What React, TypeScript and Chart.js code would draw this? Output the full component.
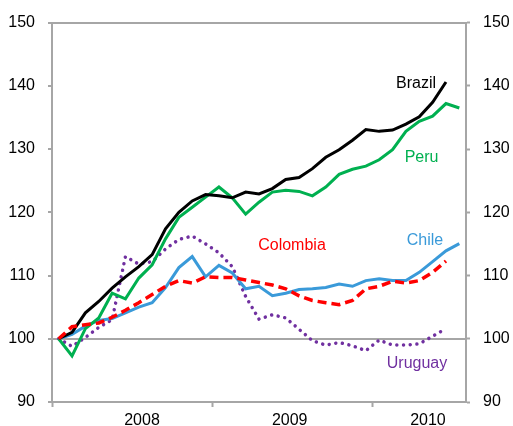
import React, { useEffect, useRef } from 'react';
import { Chart, registerables } from 'chart.js';

Chart.register(...registerables);

// Monthly index, Jan 2008 = 100 (Jan 2008 .. Jul 2010)
const categories = [
  'Jan 2008', 'Feb 2008', 'Mar 2008', 'Apr 2008', 'May 2008', 'Jun 2008', 'Jul 2008', 'Aug 2008', 'Sep 2008', 'Oct 2008', 'Nov 2008', 'Dec 2008',
  'Jan 2009', 'Feb 2009', 'Mar 2009', 'Apr 2009', 'May 2009', 'Jun 2009', 'Jul 2009', 'Aug 2009', 'Sep 2009', 'Oct 2009', 'Nov 2009', 'Dec 2009',
  'Jan 2010', 'Feb 2010', 'Mar 2010', 'Apr 2010', 'May 2010', 'Jun 2010', 'Jul 2010',
];

const brazil = [100, 101, 104.1, 105.9, 108, 109.8, 111.4, 113.3, 117.4, 120, 121.8, 122.8, 122.6, 122.3, 123.2, 122.9, 123.75, 125.2, 125.5, 126.9, 128.7, 129.9, 131.4, 133.1, 132.8, 133.0, 133.95, 135.1, 137.4, 140.6];
const peru = [100, 97.3, 101.6, 103.3, 107.2, 106.3, 109.6, 111.7, 115.8, 119.2, 120.8, 122.4, 124, 122.3, 119.7, 121.6, 123.2, 123.5, 123.3, 122.6, 124, 126, 126.8, 127.3, 128.3, 129.9, 132.8, 134.4, 135.2, 137.2, 136.5];
const colombia = [100, 101.9, 102.2, 102.5, 103.4, 104.5, 105.7, 107, 108.3, 109.2, 108.8, 109.8, 109.7, 109.7, 109.3, 108.9, 108.5, 107.9, 106.8, 106.05, 105.7, 105.4, 106.05, 107.9, 108.3, 109.1, 108.8, 109.2, 110.5, 112.3];
const chile = [100, 100.7, 102, 102.9, 103.2, 104.1, 105, 105.7, 108.1, 111.25, 113, 109.8, 111.6, 110.4, 107.9, 108.3, 106.8, 107.2, 107.8, 107.9, 108.1, 108.65, 108.3, 109.2, 109.5, 109.2, 109.2, 110.5, 112.2, 113.9, 115.05];
const uruguay = [100, 98.8, 100.2, 101.8, 103, 113, 111.8, 112.2, 114.2, 115.7, 116.25, 115.0, 113.6, 111.4, 106.7, 103.1, 103.8, 103.3, 101.5, 99.7, 99.0, 99.4, 98.9, 98.1, 99.8, 99.0, 99.0, 99.2, 100.4, 101.6];

const yearLabels = ['2008', '2009', '2010'];
const yearLabelPositions = [6.74, 17.8, 28.15];
const yearBoundaries = [0, 12, 24];

const seriesNames = ['Brazil', 'Peru', 'Colombia', 'Chile', 'Uruguay'];
const noteX = [27.26, 27.67, 17.97, 27.93, 27.33];
const noteY = [140.3, 128.6, 114.8, 115.6, 96.1];

const COLORS = {
  Brazil: '#000000',
  Peru: '#00B050',
  Colombia: '#FF0000',
  Chile: '#3A9AD9',
  Uruguay: '#7030A0',
};
const GRAY = '#A6A6A6';
const FONT = 'Liberation Sans, Arial, sans-serif';

const toPoints = (arr: number[]) => arr.map((v, i) => ({ x: i + 0.5, y: v }));

const notesPlugin = {
  id: 'notes',
  afterDatasetsDraw(chart: any) {
    const { ctx, scales } = chart;
    ctx.save();
    ctx.font = `16px ${FONT}`;
    ctx.textAlign = 'center';
    ctx.textBaseline = 'middle';
    seriesNames.forEach((name, i) => {
      ctx.fillStyle = (COLORS as any)[name];
      ctx.fillText(name, scales.x.getPixelForValue(noteX[i]), scales.y.getPixelForValue(noteY[i]));
    });
    ctx.restore();
  },
};

export default function App() {
  const canvasRef = useRef<HTMLCanvasElement | null>(null);

  useEffect(() => {
    document.body.style.margin = '0';
    const canvas = canvasRef.current;
    if (!canvas) return;

    const tickValues = [...yearBoundaries, ...yearLabelPositions].sort((a, b) => a - b);

    const chart = new Chart(canvas, {
      type: 'line',
      data: {
        datasets: [
          { label: 'Brazil', data: toPoints(brazil), borderColor: COLORS.Brazil, borderWidth: 3, order: 1 },
          { label: 'Peru', data: toPoints(peru), borderColor: COLORS.Peru, borderWidth: 3, order: 2 },
          { label: 'Colombia', data: toPoints(colombia), borderColor: COLORS.Colombia, borderWidth: 3.5, borderDash: [9, 5], order: 0 },
          { label: 'Chile', data: toPoints(chile), borderColor: COLORS.Chile, borderWidth: 3, order: 3 },
          { label: 'Uruguay', data: toPoints(uruguay), borderColor: COLORS.Uruguay, borderWidth: 3.5, borderDash: [0.01, 6.7], borderCapStyle: 'round', order: 4 },
        ] as any,
      },
      options: {
        animation: false,
        responsive: true,
        maintainAspectRatio: false,
        layout: { padding: { top: 18, left: 0, right: 0, bottom: 0 } },
        elements: {
          point: { radius: 0, hoverRadius: 0 },
          line: { tension: 0, fill: false },
        },
        plugins: {
          legend: { display: false },
          tooltip: { enabled: false },
        },
        scales: {
          x: {
            type: 'linear',
            position: 'bottom',
            min: 0,
            max: categories.length,
            afterBuildTicks: (scale: any) => {
              scale.ticks = tickValues.map((v) => ({ value: v }));
            },
            afterFit: (scale: any) => {
              scale.height = 24;
            },
            ticks: {
              autoSkip: false,
              maxRotation: 0,
              padding: 4,
              color: '#000',
              font: { family: FONT, size: 16 },
              callback: (value: any) => {
                const k = yearLabelPositions.indexOf(Number(value));
                return k >= 0 ? yearLabels[k] : '';
              },
            },
            grid: {
              drawOnChartArea: false,
              drawTicks: true,
              tickLength: 5,
              tickWidth: 2,
              tickColor: (ctx: any) => (yearBoundaries.includes(ctx.tick?.value) ? GRAY : 'rgba(0,0,0,0)'),
            },
            border: { color: GRAY, width: 2 },
          },
          y: {
            type: 'linear',
            position: 'left',
            min: 90,
            max: 150,
            afterFit: (scale: any) => {
              scale.width = 52;
            },
            ticks: {
              stepSize: 10,
              padding: 13,
              color: '#000',
              font: { family: FONT, size: 16 },
            },
            grid: {
              drawOnChartArea: true,
              tickLength: 4,
              tickWidth: 2,
              tickColor: GRAY,
              lineWidth: 2,
              color: (ctx: any) => {
                const v = ctx.tick?.value;
                return v === 100 || v === 150 ? GRAY : 'rgba(0,0,0,0)';
              },
            },
            border: { color: GRAY, width: 2 },
          },
          y2: {
            type: 'linear',
            position: 'right',
            min: 90,
            max: 150,
            afterFit: (scale: any) => {
              scale.width = 47;
            },
            ticks: {
              stepSize: 10,
              padding: 13,
              color: '#000',
              font: { family: FONT, size: 16 },
            },
            grid: {
              drawOnChartArea: false,
              tickLength: 4,
              tickWidth: 2,
              tickColor: GRAY,
            },
            border: { color: GRAY, width: 2 },
          },
        },
      } as any,
      plugins: [notesPlugin],
    });

    return () => chart.destroy();
  }, []);

  return (
    <div style={{ width: 513, height: 426, position: 'relative' }}>
      <canvas ref={canvasRef} />
    </div>
  );
}
